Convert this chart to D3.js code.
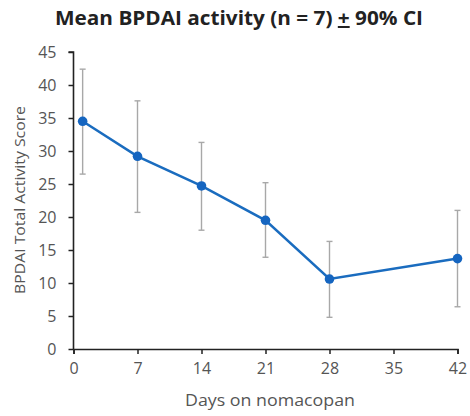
<!DOCTYPE html>
<html><head><meta charset="utf-8">
<script src="https://cdn.jsdelivr.net/npm/d3@7"></script>
<style>body{margin:0;background:#fff}svg{display:block}</style>
</head><body>
<svg id="c" width="470" height="416"></svg>
<script>
const days = [1, 7, 14, 21, 28, 42];
const means = [34.5, 29.2, 24.7, 19.5, 10.6, 13.7];
const ciLow = [26.5, 20.7, 18.0, 13.9, 4.8, 6.4];
const ciHigh = [42.4, 37.6, 31.3, 25.2, 16.3, 21.0];
const xTicks = [0, 7, 14, 21, 28, 35, 42];
const yTicks = [0, 5, 10, 15, 20, 25, 30, 35, 40, 45];

const svg = d3.select("#c");
const font = "Open Sans, Liberation Sans, sans-serif";
const x = d3.scaleLinear().domain([0, 42]).range([73.5, 457.5]);
const y = d3.scaleLinear().domain([0, 45]).range([349, 52]);

// title
const t = svg.append("text").attr("x", 239).attr("y", 25).attr("text-anchor", "middle")
  .attr("font-family", font).attr("font-weight", "bold").attr("font-size", 20).attr("fill", "#222")
  .attr("textLength", 368).attr("lengthAdjust", "spacingAndGlyphs");
t.append("tspan").text("Mean BPDAI activity (n = 7) ");
t.append("tspan").attr("text-decoration", "underline").text("+");
t.append("tspan").text(" 90% CI");

// axes
const gy = svg.append("g").attr("transform", "translate(73.5,0)")
  .call(d3.axisLeft(y).tickValues(yTicks).tickSize(5).tickPadding(12));
const gx = svg.append("g").attr("transform", "translate(0,349)")
  .call(d3.axisBottom(x).tickValues(xTicks).tickSize(5).tickPadding(9));
[gy, gx].forEach(g => {
  g.select(".domain").attr("stroke", "#222").attr("stroke-width", 1.6);
  g.selectAll(".tick line").attr("stroke", "#222").attr("stroke-width", 1.5);
  g.selectAll(".tick text").attr("font-family", font).attr("font-size", 16).attr("fill", "#555");
});
gy.select(".domain").attr("d", `M-5,${y(45)}H0V${y(0)}`);

// error bars
const eb = svg.append("g").attr("stroke", "#a8a8a8").attr("stroke-width", 1.4);
days.forEach((d, i) => {
  eb.append("line").attr("x1", x(d)).attr("x2", x(d)).attr("y1", y(ciLow[i])).attr("y2", y(ciHigh[i]));
  [ciLow[i], ciHigh[i]].forEach(v => eb.append("line")
    .attr("x1", x(d) - 3).attr("x2", x(d) + 3).attr("y1", y(v)).attr("y2", y(v)));
});

// line
const pts = days.map((d, i) => [d, means[i]]);
svg.append("path").datum(pts)
  .attr("d", d3.line().x(p => x(p[0])).y(p => y(p[1])))
  .attr("fill", "none").attr("stroke", "#1a6cbf").attr("stroke-width", 2.5);
svg.append("g").selectAll("circle").data(pts).join("circle")
  .attr("cx", p => x(p[0])).attr("cy", p => y(p[1])).attr("r", 4.8).attr("fill", "#1565c0");

// axis labels
svg.append("text").attr("x", 270).attr("y", 406).attr("text-anchor", "middle")
  .attr("font-family", font).attr("font-size", 15.5).attr("fill", "#555")
  .attr("textLength", 170).attr("lengthAdjust", "spacingAndGlyphs").text("Days on nomacopan");
svg.append("text").attr("transform", "translate(25,200) rotate(-90)").attr("text-anchor", "middle")
  .attr("font-family", font).attr("font-size", 14.5).attr("fill", "#555")
  .attr("textLength", 188).attr("lengthAdjust", "spacingAndGlyphs").text("BPDAI Total Activity Score");
</script>
</body></html>
